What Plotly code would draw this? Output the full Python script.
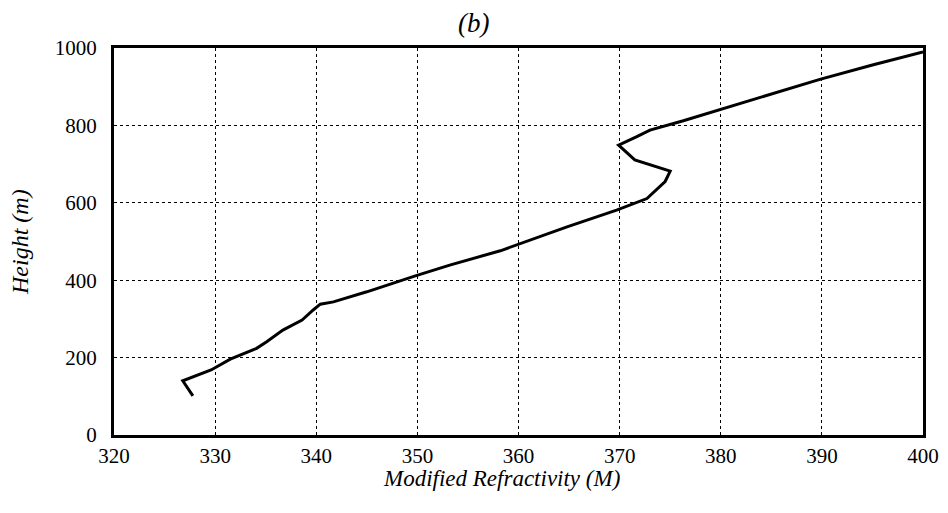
import plotly.graph_objects as go

refractivity = [327.8, 326.8, 329.6, 331.5, 334.1, 335.1, 336.7, 338.6, 339.7, 340.4,
                341.7, 345.0, 349.8, 353.2, 358.2, 359.8, 364.8, 369.7, 371.0, 372.7,
                374.5, 375.0, 371.5, 369.9, 371.7, 373.0, 376.3, 379.9, 384.0, 389.8,
                395.0, 400.0]
height = [101, 140, 168, 196, 224, 241, 271, 297, 323, 338,
          344, 370, 411, 439, 476, 491, 538, 581, 594, 611,
          655, 682, 711, 749, 771, 788, 812, 840, 873, 919,
          956, 990]

x_ticks = [320, 330, 340, 350, 360, 370, 380, 390, 400]
y_ticks = [0, 200, 400, 600, 800, 1000]

FONT = "Liberation Serif"

fig = go.Figure()
fig.add_trace(go.Scatter(x=refractivity, y=height, mode="lines",
                         line=dict(color="black", width=3), showlegend=False))

fig.update_layout(
    width=932, height=497,
    margin=dict(l=106, r=17, t=40, b=70, autoexpand=False),
    paper_bgcolor="white", plot_bgcolor="white",
    font=dict(family=FONT, color="black", size=21),
    annotations=[
        dict(text="<i>(b)</i>", x=0.4438, xref="paper", y=1.064, yref="paper",
             xanchor="center", yanchor="middle", showarrow=False,
             font=dict(family=FONT, size=27, color="black")),
        dict(text="<i>Modified Refractivity (M)</i>", x=0.4796, xref="paper",
             y=-0.112, yref="paper", xanchor="center", yanchor="middle",
             showarrow=False, font=dict(family=FONT, size=23, color="black")),
        dict(text="<i>Height (m)</i>", x=-0.1162, xref="paper", y=0.4987, yref="paper",
             xanchor="center", yanchor="middle", textangle=-90,
             showarrow=False, font=dict(family=FONT, size=24, color="black")),
    ],
)
fig.update_xaxes(
    range=[320, 400], tickvals=x_ticks, ticktext=[str(v) for v in x_ticks],
    showgrid=True, gridcolor="black", griddash="dot", gridwidth=1.3,
    showline=True, linecolor="black", linewidth=3, mirror=True,
    ticks="", ticklabelstandoff=0, zeroline=False, automargin=False,
)
fig.update_yaxes(
    range=[0, 1000], tickvals=y_ticks, ticktext=[str(v) for v in y_ticks],
    showgrid=True, gridcolor="black", griddash="dot", gridwidth=1.3,
    showline=True, linecolor="black", linewidth=3, mirror=True,
    ticks="", ticklabelstandoff=10, zeroline=False, automargin=False,
)

fig.write_html("out.html")
